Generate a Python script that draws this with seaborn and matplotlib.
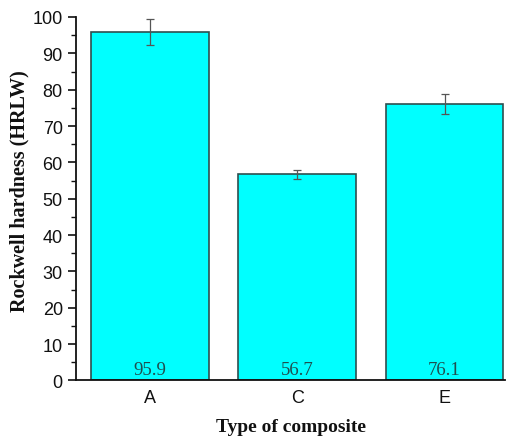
import pandas as pd
import matplotlib.pyplot as plt
import seaborn as sns
from matplotlib.ticker import MultipleLocator

# data
composites = ['A', 'C', 'E']
hardness = [95.9, 56.7, 76.1]
hardness_err = [3.5, 1.3, 2.8]

df = pd.DataFrame({'composite': composites, 'hardness': hardness})

sns.set_style('ticks')
plt.rcParams['font.family'] = ['Liberation Sans', 'DejaVu Sans']
plt.rcParams['text.color'] = '#111111'
plt.rcParams['axes.labelcolor'] = '#111111'
plt.rcParams['xtick.color'] = '#111111'
plt.rcParams['ytick.color'] = '#111111'
plt.rcParams['axes.edgecolor'] = '#111111'

fig = plt.figure(figsize=(5.07, 4.39), dpi=100)
ax = fig.add_axes([0.150, 0.131, 0.846, 0.828])

sns.barplot(data=df, x='composite', y='hardness', color='#00ffff',
            saturation=1, width=0.8, edgecolor='#2f4f4f', linewidth=1.2,
            ax=ax, errorbar=None)

ax.errorbar(x=range(len(composites)), y=df['hardness'], yerr=hardness_err,
            fmt='none', ecolor='#555555', elinewidth=0.9, capsize=3, capthick=0.9)

# values written at the bottom of each bar
for i, v in enumerate(hardness):
    ax.text(i, 0.8, f'{v:.1f}', ha='center', va='bottom', fontsize=13.5,
            family='Liberation Serif', color='#1f4f4f')

ax.set_xlim(-0.5, 2.41)
ax.set_ylim(0, 100)
ax.yaxis.set_major_locator(MultipleLocator(10))
ax.yaxis.set_minor_locator(MultipleLocator(5))
ax.tick_params(axis='y', which='major', length=6, width=1.2, labelsize=13, direction='out')
ax.tick_params(axis='y', which='minor', length=3.5, width=1.0)
ax.tick_params(axis='x', length=0, labelsize=13, pad=6)

sns.despine(ax=ax, top=True, right=True)
ax.spines['left'].set_linewidth(1.3)
ax.spines['bottom'].set_linewidth(1.3)

ax.set_xlabel('Type of composite', fontsize=14, fontweight='bold',
              family='Liberation Serif', labelpad=9)
ax.set_ylabel('Rockwell hardness (HRLW)', fontsize=14.5, fontweight='bold',
              family='Liberation Serif')
ax.yaxis.set_label_coords(-0.108, 0.525)

plt.savefig('out.png', dpi=100)
